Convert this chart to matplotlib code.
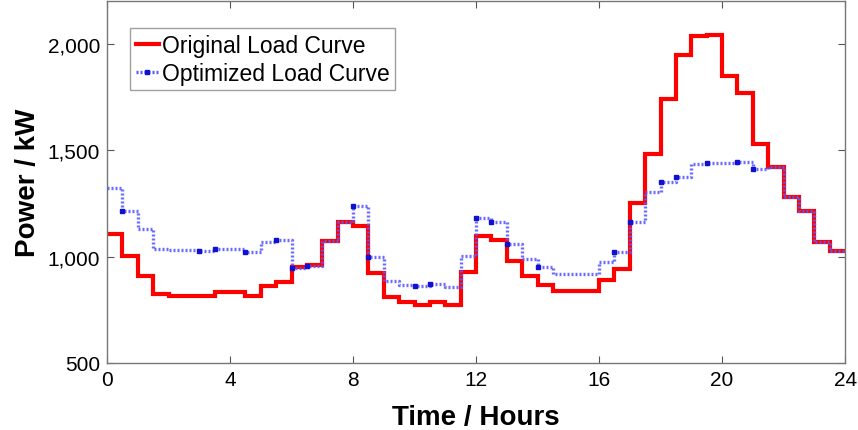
import numpy as np
import matplotlib
matplotlib.use("Agg")
import matplotlib.pyplot as plt
from matplotlib.ticker import FuncFormatter

# Half-hour step values (start time of each interval)
hours = [i * 0.5 for i in range(48)]
original_load = [1105, 1002, 908, 823, 815, 815, 815, 833, 833, 815,
                 861, 880, 950, 960, 1072, 1161, 1142, 922, 809, 786,
                 772, 786, 772, 927, 1095, 1076, 978, 908, 866, 837,
                 837, 837, 889, 941, 1250, 1480, 1738, 1949, 2038, 2042,
                 1850, 1770, 1531, 1419, 1278, 1212, 1067, 1025]
optimized_load = [1320, 1213, 1128, 1034, 1030, 1030, 1025, 1034, 1034, 1020,
                  1067, 1076, 945, 955, 1072, 1161, 1236, 997, 884, 866,
                  861, 870, 856, 1002, 1180, 1161, 1058, 988, 950, 917,
                  917, 917, 973, 1020, 1161, 1302, 1349, 1372, 1433, 1438,
                  1438, 1443, 1410, 1419, 1278, 1212, 1067, 1025]
marker_idx = [1, 6, 7, 9, 11, 12, 13, 16, 17, 20, 21, 24, 25, 26, 28,
              33, 34, 36, 37, 39, 41, 42]
x_ticks = [0, 4, 8, 12, 16, 20, 24]
y_ticks = [500, 1000, 1500, 2000]

plt.rcParams['font.family'] = ['Liberation Sans', 'DejaVu Sans']

fig = plt.figure(figsize=(8.58, 4.31), dpi=100)
ax = fig.add_axes([0.1247, 0.1555, 0.8603, 0.8395])

xs = hours + [24]
ys_o = original_load + [original_load[-1]]
ys_b = optimized_load + [optimized_load[-1]]

dot_style = (0, (0.6, 0.6))
ax.step(xs, ys_o, where='post', color='#ff0000', lw=3.0,
        solid_joinstyle='miter', zorder=2)
ax.step(xs, ys_b, where='post', color='#5a5aff', lw=2.4, linestyle=dot_style,
        zorder=3, alpha=0.9)
ax.plot(hours, optimized_load, linestyle='none', marker='s', ms=2.4,
        color='#1010d0', zorder=4, markevery=marker_idx)

h_red, = ax.plot([], [], color='#ff0000', lw=3.0)
h_blue, = ax.plot([], [], color='#5a5aff', lw=2.4, linestyle=dot_style, marker='s',
                  ms=3, mfc='#1010d0', mec='#1010d0')

ax.set_xlim(0, 24)
ax.set_ylim(500, 2200)
ax.set_xticks(x_ticks)
ax.set_yticks(y_ticks)
ax.yaxis.set_major_formatter(FuncFormatter(lambda v, p: f"{int(v):,}"))
ax.tick_params(direction='in', length=5, width=0.8, color='#555555', labelsize=15,
               top=True, right=True, pad=5)
for s in ax.spines.values():
    s.set_color('#777777')
    s.set_linewidth(1.0)

ax.set_xlabel('Time / Hours', fontsize=20, fontweight='bold', labelpad=11)
ax.set_ylabel('Power / kW', fontsize=20, fontweight='bold', labelpad=5)

leg = ax.legend([h_red, h_blue], ['Original Load Curve', 'Optimized Load Curve'],
                loc='upper left', bbox_to_anchor=(0.031, 0.925), fontsize=16.5,
                frameon=True, fancybox=False, edgecolor='#888888',
                handlelength=1.0, handletextpad=0.15, borderpad=0.25,
                labelspacing=0.2, borderaxespad=0.0)
leg.get_frame().set_linewidth(1.0)

fig.savefig('out.png', dpi=100)
